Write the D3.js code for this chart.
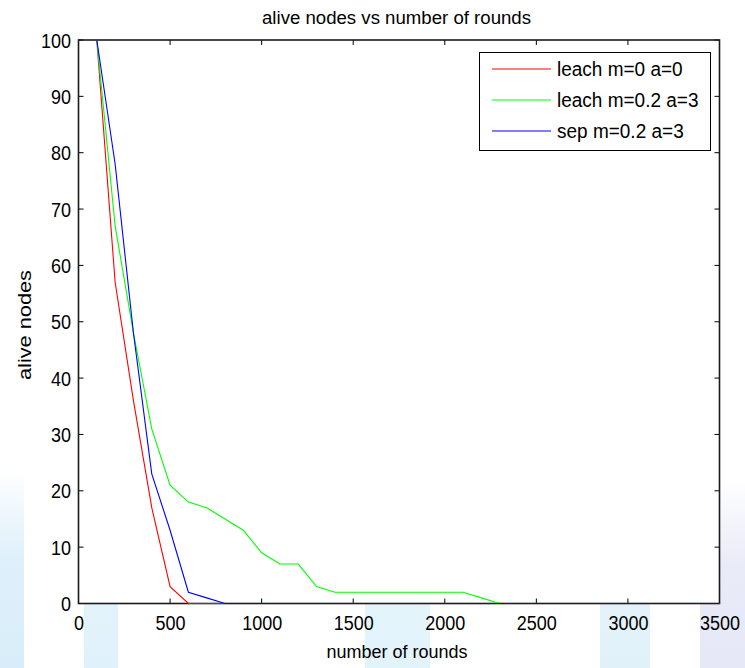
<!DOCTYPE html>
<html>
<head>
<meta charset="utf-8">
<script src="https://cdn.jsdelivr.net/npm/d3@7"></script>
<style>
  html, body { margin: 0; padding: 0; background: #ffffff; }
  svg { display: block; }
  text { font-family: "Liberation Sans", Arial, sans-serif; fill: #000; }
</style>
</head>
<body>
<svg id="chart" width="745" height="668"></svg>
<script>
// ---- data ----
const chartTitle = "alive nodes vs number of rounds";
const xLabel = "number of rounds";
const yLabel = "alive nodes";
const xTicks = [0, 500, 1000, 1500, 2000, 2500, 3000, 3500];
const yTicks = [0, 10, 20, 30, 40, 50, 60, 70, 80, 90, 100];

const seriesNames = ["leach m=0 a=0", "leach m=0.2 a=3", "sep m=0.2 a=3"];
const seriesColors = ["#ff0000", "#00ff00", "#0000ff"];

const leachRounds = [100, 200, 300, 400, 500, 600, 3500];
const leachAlive  = [100, 57, 36, 17, 3, 0, 0];

const leachMRounds = [100, 200, 300, 400, 500, 600, 700, 800, 900, 1000, 1100, 1200, 1300, 1400, 2100, 2200, 2300, 3500];
const leachMAlive  = [100, 67, 48, 31, 21, 18, 17, 15, 13, 9, 7, 7, 3, 2, 2, 1, 0, 0];

const sepRounds = [100, 200, 300, 400, 500, 600, 700, 800, 3500];
const sepAlive  = [100, 78, 48, 23, 13, 2, 1, 0, 0];

// ---- layout ----
const svg = d3.select("#chart");
const pL = 78.5, pR = 719.5, pT = 40, pB = 603.5;

const x = d3.scaleLinear().domain([0, 3500]).range([pL, pR]);
const y = d3.scaleLinear().domain([0, 100]).range([pB, pT]);

// faint background watermark bands (outside the plot), fading in towards the bottom
const defs = svg.append("defs");
const bands = [
  {x0: 0, x1: 24, c: "#cfe9f8", y0: 470},
  {x0: 84, x1: 118, c: "#d8eefa", y0: 520},
  {x0: 365, x1: 430, c: "#daf0fa", y0: 520},
  {x0: 600, x1: 650, c: "#d9eef9", y0: 520},
  {x0: 700, x1: 745, c: "#dfe2f5", y0: 480}
];
bands.forEach((b, i) => {
  const g = defs.append("linearGradient").attr("id", "bg" + i)
    .attr("x1", 0).attr("y1", 0).attr("x2", 0).attr("y2", 1);
  g.append("stop").attr("offset", "0%").attr("stop-color", b.c).attr("stop-opacity", 0);
  g.append("stop").attr("offset", "45%").attr("stop-color", b.c).attr("stop-opacity", 0.7);
  g.append("stop").attr("offset", "100%").attr("stop-color", b.c).attr("stop-opacity", 0.8);
});
svg.selectAll("rect.band").data(bands).enter().append("rect")
  .attr("class", "band")
  .attr("x", d => d.x0).attr("width", d => d.x1 - d.x0)
  .attr("y", d => d.y0).attr("height", d => 668 - d.y0)
  .attr("fill", (d, i) => `url(#bg${i})`);

// plot area
svg.append("rect")
  .attr("x", pL).attr("y", pT)
  .attr("width", pR - pL).attr("height", pB - pT)
  .attr("fill", "#ffffff");

// axes (ticks inward on all four sides)
const tickLen = 5;
const axisBottom = d3.axisBottom(x).tickValues(xTicks).tickSize(0).tickPadding(12).tickFormat(d3.format("d"));
const axisLeft = d3.axisLeft(y).tickValues(yTicks).tickSize(0).tickPadding(7.5).tickFormat(d3.format("d"));

const gx = svg.append("g").attr("transform", `translate(0,${pB})`).call(axisBottom);
gx.select(".domain").remove();
gx.selectAll("text").attr("font-size", 18).attr("dy", "0.71em").attr("fill", "#000")
  .attr("transform", "scale(1,1.08)")
  .style("font-family", '"Liberation Sans", Arial, sans-serif');

const gy = svg.append("g").attr("transform", `translate(${pL},0)`).call(axisLeft);
gy.select(".domain").remove();
gy.selectAll("text").attr("font-size", 18).attr("dy", "0.36em").attr("fill", "#000")
  .attr("transform", "scale(1,1.08)")
  .style("font-family", '"Liberation Sans", Arial, sans-serif');

// inward tick marks
const tickG = svg.append("g").attr("stroke", "#000").attr("stroke-width", 1);
tickG.selectAll("line.xb").data(xTicks).enter().append("line")
  .attr("x1", d => x(d)).attr("x2", d => x(d)).attr("y1", pB).attr("y2", pB - tickLen);
tickG.selectAll("line.xt").data(xTicks).enter().append("line")
  .attr("x1", d => x(d)).attr("x2", d => x(d)).attr("y1", pT).attr("y2", pT + tickLen);
tickG.selectAll("line.yl").data(yTicks).enter().append("line")
  .attr("y1", d => y(d)).attr("y2", d => y(d)).attr("x1", pL).attr("x2", pL + tickLen);
tickG.selectAll("line.yr").data(yTicks).enter().append("line")
  .attr("y1", d => y(d)).attr("y2", d => y(d)).attr("x1", pR).attr("x2", pR - tickLen);

// box
svg.append("rect")
  .attr("x", pL).attr("y", pT)
  .attr("width", pR - pL).attr("height", pB - pT)
  .attr("fill", "none").attr("stroke", "#1a1a1a").attr("stroke-width", 1.6);

// series lines
const series = [
  {rounds: leachRounds, alive: leachAlive},
  {rounds: leachMRounds, alive: leachMAlive},
  {rounds: sepRounds, alive: sepAlive}
];
const line = d3.line().x(d => x(d[0])).y(d => y(d[1]));
series.forEach((s, i) => {
  const pts = s.rounds.map((r, j) => [r, s.alive[j]]);
  svg.append("path")
    .datum(pts)
    .attr("d", line)
    .attr("fill", "none")
    .attr("stroke", seriesColors[i])
    .attr("stroke-width", 1.1);
});

// title and axis labels
svg.append("text")
  .attr("transform", "translate(396.5,24) scale(1,1.05)")
  .attr("text-anchor", "middle").attr("font-size", 18)
  .attr("textLength", 269).attr("lengthAdjust", "spacingAndGlyphs")
  .text(chartTitle);

svg.append("text")
  .attr("transform", "translate(397,658) scale(1,1.05)")
  .attr("text-anchor", "middle").attr("font-size", 18)
  .text(xLabel);

svg.append("text")
  .attr("transform", "translate(31,325) rotate(-90)")
  .attr("text-anchor", "middle").attr("font-size", 18)
  .attr("textLength", 110).attr("lengthAdjust", "spacingAndGlyphs")
  .text(yLabel);

// legend
const lg = svg.append("g");
lg.append("rect")
  .attr("x", 479.5).attr("y", 52.5).attr("width", 231).attr("height", 98)
  .attr("fill", "#fff").attr("stroke", "#000").attr("stroke-width", 1);
const legendRowY = [69, 100, 131];
seriesNames.forEach((name, i) => {
  lg.append("line")
    .attr("x1", 492).attr("x2", 551)
    .attr("y1", legendRowY[i]).attr("y2", legendRowY[i])
    .attr("stroke", seriesColors[i]).attr("stroke-width", 1.1);
  lg.append("text")
    .attr("transform", `translate(557,${legendRowY[i]}) scale(1,1.08)`)
    .attr("dy", "0.36em")
    .attr("font-size", 19)
    .text(name);
});
</script>
</body>
</html>
